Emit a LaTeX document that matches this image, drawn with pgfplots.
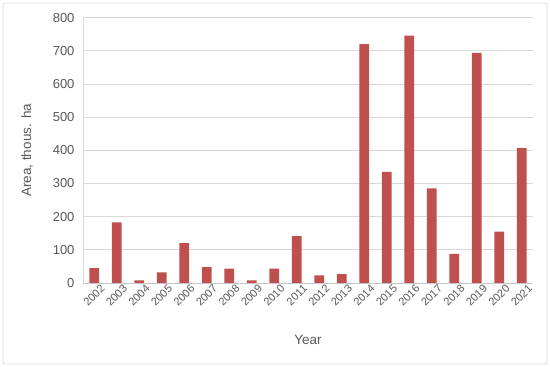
\documentclass[border=0pt]{standalone}
\usepackage{pgfplots}
\pgfplotsset{compat=1.18}
\usepackage{fontspec}
\setmainfont{Liberation Sans}
\definecolor{barred}{HTML}{C0504D}
\definecolor{txtgray}{HTML}{595959}
\definecolor{gridgray}{HTML}{D9D9D9}
\begin{document}
\begin{tikzpicture}[x=1pt,y=1pt]
\useasboundingbox (-83,-84) rectangle (467,283);
\draw[gridgray, line width=0.8pt, rounded corners=2pt, fill=white] (-80,-81) rectangle (464,280);
\begin{axis}[
  at={(0,0)}, anchor=south west,
  scale only axis, width=450pt, height=265.3pt,
  xmin=-0.5, xmax=19.5, ymin=0, ymax=800,
  ytick={0,100,...,800},
  xtick={0,...,19},
  xticklabels={2002,2003,2004,2005,2006,2007,2008,2009,2010,2011,2012,2013,2014,2015,2016,2017,2018,2019,2020,2021},
  x tick label style={rotate=45, anchor=north east, font=\fontsize{11}{12}\selectfont, text=txtgray, inner sep=0.5pt, xshift=4pt, yshift=-4pt},
  y tick label style={font=\fontsize{13}{15}\selectfont, text=txtgray, xshift=-5pt},
  /pgf/number format/assume math mode=true,
  major tick length=0pt,
  ymajorgrids, grid style={gridgray, line width=0.8pt},
  axis x line*=bottom, axis y line*=left,
  x axis line style={draw=gridgray!80!gray, line width=0.8pt},
  y axis line style={draw=gridgray, line width=0.8pt},
  axis line style={-},
  xlabel={Year}, ylabel={Area, thous. ha},
  label style={font=\fontsize{13.5}{15}\selectfont, text=txtgray},
  xlabel style={yshift=-24pt},
  ylabel style={yshift=13pt},
  ybar, bar width=0.44,
]
\addplot[fill=barred, draw=none] coordinates {
(0,45) (1,183) (2,8) (3,32) (4,120) (5,48) (6,43) (7,8) (8,43) (9,141)
(10,23) (11,27) (12,720) (13,335) (14,746) (15,285) (16,88) (17,694) (18,155) (19,407)
};
\end{axis}
\end{tikzpicture}
\end{document}
